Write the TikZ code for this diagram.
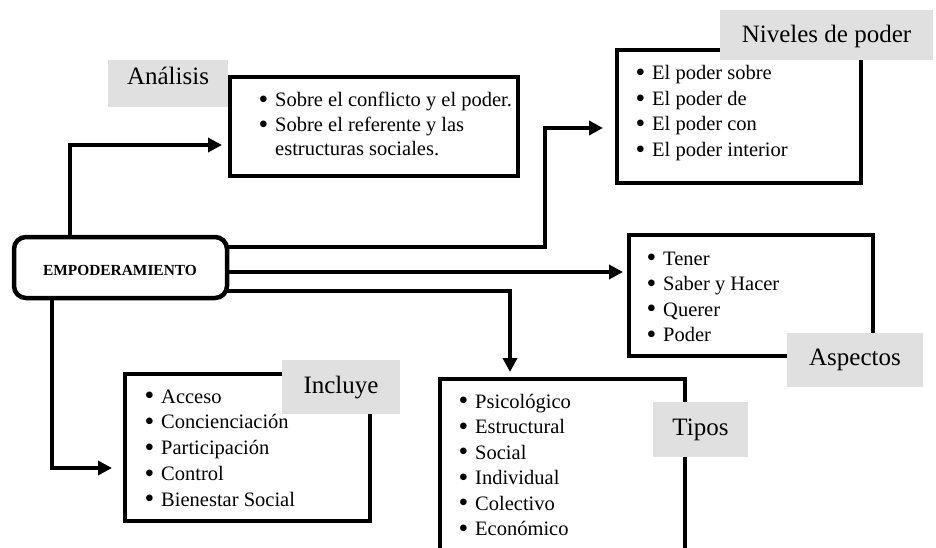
\documentclass[tikz,border=0pt]{standalone}
\usepackage{fontspec}
\setmainfont{Liberation Serif}
\usetikzlibrary{arrows.meta,fit}
\definecolor{labgray}{RGB}{224,224,224}
\newcommand\itembul{\llap{\raisebox{-1.8pt}{\scalebox{1.35}{\textbullet}}\hspace{7pt}}}
\begin{document}
\begin{tikzpicture}[x=1pt,y=-1pt,
  boxstyle/.style={draw=black,line width=4.5pt,fill=white,inner sep=0pt,outer sep=0pt},
  empstyle/.style={draw=black,line width=4.5pt,fill=white,rounded corners=12pt,inner sep=0pt,outer sep=0pt},
  labstyle/.style={fill=labgray,inner sep=0pt,outer sep=0pt},
  arr/.style={line width=4pt,line join=miter,-{Triangle[length=14pt,width=14pt]}},
  listtext/.style={anchor=base west,inner sep=0pt,font=\fontsize{20.5}{25.5}\selectfont},
  labtext/.style={anchor=base,inner sep=0pt,font=\fontsize{25}{30}\selectfont},
]
\useasboundingbox (0,0) rectangle (936,548);
\clip (0,0) rectangle (936,548);
\fill[white] (0,0) rectangle (936,548);

% boxes
\node[empstyle,fit={(14,237) (227,298)}] (emp) {};
\node[boxstyle,fit={(230,77) (518,176)}] (ana) {};
\node[boxstyle,fit={(617,50) (861,183)}] (niv) {};
\node[boxstyle,fit={(629,235) (873,356)}] (asp) {};
\node[boxstyle,fit={(440,379) (685,600)}] (tip) {};
\node[boxstyle,fit={(125,374) (370,521)}] (inc) {};

% connectors
\draw[arr,shorten >=8pt] (emp.north -| 70,0) |- (ana.west |- 0,145);
\draw[arr,shorten >=14pt] (emp.east |- 0,247) -- (545,247) -- (545,128) -- (niv.west |- 0,128);
\draw[arr,shorten >=6pt] (emp.east |- 0,272) -- (asp.west |- 0,272);
\draw[arr,shorten >=7pt] (emp.east |- 0,291) -| (tip.north -| 510,0);
\draw[arr,shorten >=13pt] (emp.south -| 52,0) |- (inc.west |- 0,468);

% gray labels
\node[labstyle,fit={(108,60) (228,107)}] (labana) {};
\node[labstyle,fit={(720,10) (933,60)}] (labniv) {};
\node[labstyle,fit={(787,333) (923,387)}] (labasp) {};
\node[labstyle,fit={(653,402) (748,457)}] (labtip) {};
\node[labstyle,fit={(282,360) (400,414)}] (labinc) {};

\node[labtext] (tana) at (labana.center |- 0,85) {Análisis};
\node[labtext] (tniv) at (labniv.center |- 0,43) {Niveles de poder};
\node[labtext] (tasp) at (labasp.center |- 0,365) {Aspectos};
\node[labtext] (ttip) at (labtip.center |- 0,435) {Tipos};
\node[labtext] (tinc) at (labinc.center |- 0,393) {Incluye};

% main node text
\node[anchor=base,inner sep=0pt,font=\bfseries\fontsize{15.4}{18}\selectfont] (temp) at (120,275) {EMPODERAMIENTO};

% lists
\node[listtext,font=\fontsize{20.5}{24.5}\selectfont] (lana) at (275,107) {\begin{tabular}[t]{@{}l@{}}
\itembul Sobre el conflicto y el poder.\\
\itembul Sobre el referente y las\\
estructuras sociales.
\end{tabular}};
\node[listtext] (lniv) at (652,80) {\begin{tabular}[t]{@{}l@{}}
\itembul El poder sobre\\
\itembul El poder de\\
\itembul El poder con\\
\itembul El poder interior
\end{tabular}};
\node[listtext] (lasp) at (663,265) {\begin{tabular}[t]{@{}l@{}}
\itembul Tener\\
\itembul Saber y Hacer\\
\itembul Querer\\
\itembul Poder
\end{tabular}};
\node[listtext] (ltip) at (475,408) {\begin{tabular}[t]{@{}l@{}}
\itembul Psicológico\\
\itembul Estructural\\
\itembul Social\\
\itembul Individual\\
\itembul Colectivo\\
\itembul Económico
\end{tabular}};
\node[listtext,font=\fontsize{20.5}{25.75}\selectfont] (linc) at (161,403) {\begin{tabular}[t]{@{}l@{}}
\itembul Acceso\\
\itembul Concienciación\\
\itembul Participación\\
\itembul Control\\
\itembul Bienestar Social
\end{tabular}};
\end{tikzpicture}
\end{document}
